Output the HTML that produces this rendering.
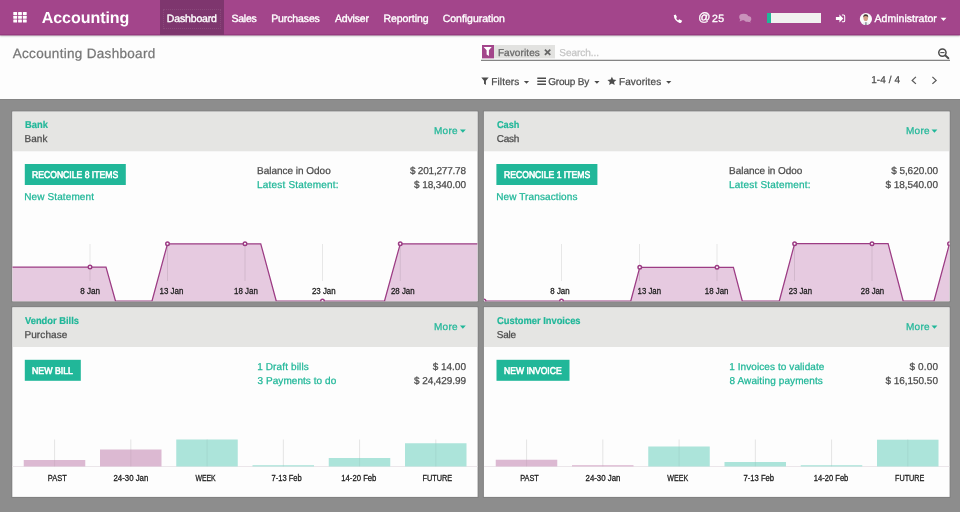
<!DOCTYPE html>
<html lang="en">
<head>
<meta charset="utf-8">
<title>Accounting Dashboard</title>
<style>
*{box-sizing:border-box;margin:0;padding:0}
html,body{width:960px;height:512px;overflow:hidden}
body{font-family:"Liberation Sans",sans-serif;background:#8d8d8d;position:relative;color:#4c4c4c}
.t{position:absolute;white-space:nowrap;display:block;text-rendering:geometricPrecision;-webkit-text-stroke:.25px currentColor}
svg{position:absolute;overflow:visible}
.nav{position:absolute;left:0;top:0;width:960px;height:35px;background:#a3458b;border-bottom:1px solid #973a80;box-shadow:0 1px 0 rgba(151,58,128,.4),0 1px 2px rgba(0,0,0,.3);z-index:3}
.nav .act{position:absolute;left:160px;top:0;width:64px;height:35px;background:#7e366e}
.nav .act i{position:absolute;left:3px;top:9px;width:58px;height:20px;border:1px dotted rgba(255,255,255,.09)}
.bar{position:absolute;left:767px;top:13px;width:54px;height:10px;background:#f1f1f0}
.bar i{position:absolute;left:0;top:0;width:4px;height:10px;background:#21b799}
.cp{position:absolute;left:0;top:34px;width:960px;height:65px;z-index:2}
.cp .bg{position:absolute;left:0;top:0;width:960px;height:65.2px;background:#fdfdfd;box-shadow:0 0 1px rgba(0,0,0,.35)}
.facet-i{position:absolute;left:482px;top:11px;width:12px;height:13px;background:#a3458b;box-shadow:0 1px 0 rgba(163,69,139,.4)}
.facet-b{position:absolute;left:494px;top:11px;width:61px;height:13px;background:#e2e2e0;box-shadow:0 1px 0 rgba(226,226,224,.4)}
.sline{position:absolute;left:481px;top:26px;width:469px;height:1px;background:#858585;box-shadow:0 -1px 0 rgba(120,120,120,.25)}
.card{position:absolute;width:466px;height:190px}
.hd{position:absolute;left:0;top:0;height:40px;background:#e5e5e3}
.btn{position:absolute;background:#21b799}
.md{-webkit-text-stroke:.6px currentColor}
.mi{-webkit-text-stroke:.35px currentColor}
.bc{-webkit-text-stroke:.25px currentColor}
.brand{-webkit-text-stroke:0}
.nb{-webkit-text-stroke:.2px currentColor}
</style>
</head>
<body>

<div class="nav">
  <div class="act"><i></i></div>
  <svg width="960" height="34" viewBox="0 0 960 34" style="left:0;top:0">
    <!-- apps grid -->
    <g fill="#fff">
      <rect x="13.3" y="12" width="3.8" height="2.9" rx=".5"/><rect x="18.1" y="12" width="3.8" height="2.9" rx=".5"/><rect x="22.9" y="12" width="3.8" height="2.9" rx=".5"/>
      <rect x="13.3" y="15.8" width="3.8" height="2.9" rx=".5"/><rect x="18.1" y="15.8" width="3.8" height="2.9" rx=".5"/><rect x="22.9" y="15.8" width="3.8" height="2.9" rx=".5"/>
      <rect x="13.3" y="19.6" width="3.8" height="2.9" rx=".5"/><rect x="18.1" y="19.6" width="3.8" height="2.9" rx=".5"/><rect x="22.9" y="19.6" width="3.8" height="2.9" rx=".5"/>
    </g>
    <!-- phone -->
    <path d="M674.9 15.2 C674.2 18.3 677.3 22.2 680.9 22.2" fill="none" stroke="#fff" stroke-width="1.5"/>
    <path d="M673.6 15.6 L675.6 14.6 L677.1 17.2 L675.4 18.3 Z M678 20.6 L679.2 19.2 L682.2 20.8 L681.3 22.6 L679.6 22.9 Z" fill="#fff"/>
    <!-- comments -->
    <g fill="#fff" opacity=".42">
      <ellipse cx="743.7" cy="17" rx="4.5" ry="3.3"/><path d="M740.3 19 L739.6 21.6 L743 20 Z"/>
      <ellipse cx="747.6" cy="18.9" rx="3.7" ry="2.8"/><path d="M749.3 20.6 L751.2 22.6 L747.6 21.6 Z"/>
    </g>
    <!-- sign in -->
    <g fill="#fff">
      <path d="M835.9 16.9 H839.4 V14.5 L843.3 18.5 L839.4 22.5 V20.1 H835.9 Z"/>
      <path d="M841.9 14.6 H843.6 Q845.2 14.6 845.2 16.2 V20.7 Q845.2 22.3 843.6 22.3 H841.9 V21.3 H843.4 Q844.2 21.3 844.2 20.5 V16.4 Q844.2 15.6 843.4 15.6 H841.9 Z"/>
    </g>
    <!-- avatar -->
    <circle cx="865.9" cy="19" r="6.1" fill="#fbfbfb"/>
    <path d="M862.2 24 Q862.8 21.8 865.8 21.8 Q868.8 21.8 869.4 24 Q865.9 25.8 862.2 24 Z" fill="#eceef0"/>
    <path d="M865.3 22 H866.5 L866.8 25 H865 Z" fill="#8f959c"/>
    <ellipse cx="865.7" cy="18" rx="2.3" ry="3.1" fill="#d4a088"/>
    <path d="M863.3 17.6 Q863 14.2 865.7 14.2 Q868.5 14.2 868.2 17.6 Q867.6 15.9 865.7 16 Q863.9 15.9 863.3 17.6 Z" fill="#4a3a34"/>
    <!-- caret -->
    <path d="M940.6 17.8 H946.5 L943.55 21 Z" fill="#fff"/>
  </svg>
  <div class="bar"><i></i></div>
  <span class="t brand" style="left:41.68px;top:9px;font-size:16px;line-height:19px;letter-spacing:-0.035px;color:#fff;font-weight:700">Accounting</span>
  <span class="t mi" style="left:166.86px;top:12px;font-size:10.5px;line-height:14px;letter-spacing:-0.167px;color:#fff">Dashboard</span>
  <span class="t mi" style="left:231.43px;top:12px;font-size:10.5px;line-height:14px;letter-spacing:-0.231px;color:#fff">Sales</span>
  <span class="t mi" style="left:271.16px;top:12px;font-size:10.5px;line-height:14px;letter-spacing:-0.113px;color:#fff">Purchases</span>
  <span class="t mi" style="left:335.00px;top:12px;font-size:10.5px;line-height:14px;letter-spacing:-0.188px;color:#fff">Adviser</span>
  <span class="t mi" style="left:383.41px;top:12px;font-size:10.5px;line-height:14px;letter-spacing:-0.037px;color:#fff">Reporting</span>
  <span class="t mi" style="left:442.73px;top:12px;font-size:10.5px;line-height:14px;letter-spacing:-0.024px;color:#fff">Configuration</span>
  <span class="t mi" style="left:698.30px;top:9px;font-size:12px;line-height:16px;letter-spacing:0.000px;color:#fff">@</span>
  <span class="t mi" style="left:711.98px;top:12px;font-size:10.5px;line-height:14px;letter-spacing:0.478px;color:#fff">25</span>
  <span class="t mi" style="left:874.50px;top:12px;font-size:10.5px;line-height:14px;letter-spacing:0.040px;color:#fff">Administrator</span>
</div>

<div class="cp">
  <div class="bg"></div>
  <div class="facet-i"></div><div class="facet-b"></div><div class="sline"></div>
  <svg width="960" height="65" viewBox="0 34 960 65" style="left:0;top:0">
    <!-- facet funnel -->
    <path d="M483.6 46.9 H491.7 L488.9 50.3 V56 L486.6 54.6 V50.3 Z" fill="#fff"/>
    <!-- facet x -->
    <path d="M544.9 49.7 L550.3 54.9 M550.3 49.7 L544.9 54.9" stroke="#666" stroke-width="1.8" fill="none"/>
    <!-- search-minus -->
    <circle cx="942.4" cy="52.6" r="3.65" fill="none" stroke="#4c4c4c" stroke-width="1.5"/>
    <path d="M945.4 55.5 L948.4 58.2" stroke="#4c4c4c" stroke-width="1.9" stroke-linecap="round"/>
    <path d="M940.3 52.6 H944.5" stroke="#4c4c4c" stroke-width="1.1"/>
    <!-- filters funnel -->
    <path d="M481.3 77.6 H488.7 L485.9 80.8 V85.1 L484 83.7 V80.8 Z" fill="#4c4c4c"/>
    <path d="M523.9 80.9 H529.1 L526.5 83.8 Z" fill="#4c4c4c"/>
    <!-- bars -->
    <path d="M537.3 78.3 H546 M537.3 81.3 H546 M537.3 84.3 H546" stroke="#4c4c4c" stroke-width="1.5"/>
    <path d="M594.3 80.9 H599.5 L596.9 83.8 Z" fill="#4c4c4c"/>
    <!-- star -->
    <path d="M611.9 76.7 L613.2 79.6 L616.4 79.9 L614 82 L614.7 85.1 L611.9 83.5 L609.1 85.1 L609.8 82 L607.4 79.9 L610.6 79.6 Z" fill="#4c4c4c"/>
    <path d="M666.1 80.9 H671.3 L668.7 83.8 Z" fill="#4c4c4c"/>
    <!-- pager chevrons -->
    <path d="M915.9 76.9 L912.2 80.4 L915.9 83.9" fill="none" stroke="#5a5a5a" stroke-width="1.3"/>
    <path d="M932.4 76.9 L936.1 80.4 L932.4 83.9" fill="none" stroke="#5a5a5a" stroke-width="1.3"/>
  </svg>
  <span class="t bc" style="left:12.75px;top:11px;font-size:13.5px;line-height:17px;letter-spacing:0.310px;color:#777">Accounting Dashboard</span>
  <span class="t" style="left:497.90px;top:13px;font-size:10px;line-height:13px;letter-spacing:0.103px;color:#666">Favorites</span>
  <span class="t" style="left:559.35px;top:13px;font-size:10px;line-height:13px;letter-spacing:-0.036px;color:#c4c4c4">Search...</span>
  <span class="t" style="left:491.20px;top:42px;font-size:10px;line-height:13px;letter-spacing:0.155px;color:#4c4c4c">Filters</span>
  <span class="t" style="left:548.20px;top:42px;font-size:10px;line-height:13px;letter-spacing:-0.163px;color:#4c4c4c">Group By</span>
  <span class="t" style="left:618.90px;top:42px;font-size:10px;line-height:13px;letter-spacing:0.141px;color:#4c4c4c">Favorites</span>
  <span class="t" style="left:871.25px;top:40px;font-size:10px;line-height:13px;letter-spacing:0.060px;color:#4c4c4c">1-4 / 4</span>
</div>

<div class="card" id="c1" style="left:12px;top:111px">
  <svg class="bgs" width="468" height="193" viewBox="11 110 468 193" style="left:-1px;top:-1px"><rect x="11.30" y="110.50" width="467.30" height="191.75" fill="#000" fill-opacity=".09"/><rect x="12.3" y="111.5" width="465.30" height="189.75" fill="#fdfdfd"/></svg>
  <div class="hd" style="left:1px;top:1px;width:464px;height:39px;box-shadow:0 1px 0 rgba(229,229,227,0.25)"></div>
  <div class="btn" style="left:0;top:0;width:101.20px;height:21.00px;transform:translate(12.80px,53.00px)"></div>
  <svg width="466" height="191" viewBox="12 111 466 191" style="left:0;top:0" font-family="Liberation Sans, sans-serif">
    <clipPath id="clip-c1"><rect x="12.3" y="111.5" width="465.30" height="189.75"/></clipPath>
    <path d="M459.90 129.40H465.80L462.85 132.80Z" fill="#21b799"/>
    <g clip-path="url(#clip-c1)">
      <path d="M12.3 267H106L115.5 301H152L167.5 243.75H260.75L276.25 301H384.5L400.25 243.75H477.6 V302.25 H12.3 Z" fill="#e6cae0"/>
      <path d="M90 244V281M167.5 244V281M245 244V281M322.5 244V281M400.25 244V281" stroke="#000" stroke-opacity=".085" stroke-width="1" fill="none"/>
      <path d="M12.3 267H106L115.5 301H152L167.5 243.75H260.75L276.25 301H384.5L400.25 243.75H477.6" fill="none" stroke="#9c3c84" stroke-width="1.25"/>
      <g fill="#fff" stroke="#9c3c84" stroke-width="1.5"><circle cx="90" cy="267" r="1.75"/><circle cx="167.5" cy="243.75" r="1.75"/><circle cx="245" cy="243.75" r="1.75"/><circle cx="322.5" cy="301" r="1.75"/><circle cx="400.25" cy="243.75" r="1.75"/></g>
      <g font-size="8.3" fill="#1c1c1c" stroke="#1c1c1c" stroke-width=".28"><text x="80.3" y="294" textLength="19.8" lengthAdjust="spacingAndGlyphs">8 Jan</text><text x="159.6" y="294" textLength="23.8" lengthAdjust="spacingAndGlyphs">13 Jan</text><text x="234" y="294" textLength="23.8" lengthAdjust="spacingAndGlyphs">18 Jan</text><text x="312" y="294" textLength="23.6" lengthAdjust="spacingAndGlyphs">23 Jan</text><text x="391" y="294" textLength="23.6" lengthAdjust="spacingAndGlyphs">28 Jan</text></g>
    </g>
  </svg>
  <span class="t sx nb" style="left:12.59px;top:8px;font-size:10px;line-height:13px;letter-spacing:0.000px;color:#21b799;transform:scaleX(0.9353);transform-origin:0 0;font-weight:700">Bank</span>
  <span class="t" style="left:12.40px;top:22px;font-size:10px;line-height:13px;letter-spacing:0.086px;color:#4c4c4c">Bank</span>
  <span class="t" style="left:422.00px;top:14px;font-size:10px;line-height:13px;letter-spacing:0.243px;color:#21b799">More</span>
  <span class="t md sx" style="left:20.21px;top:58px;font-size:9.8px;line-height:13px;letter-spacing:0.000px;color:#fff;transform:scaleX(0.8789);transform-origin:0 0">RECONCILE 8 ITEMS</span>
  <span class="t" style="left:12.20px;top:80px;font-size:10px;line-height:13px;letter-spacing:0.122px;color:#21b799">New Statement</span>
  <span class="t" style="left:245.10px;top:54px;font-size:10px;line-height:13px;letter-spacing:-0.023px;color:#4c4c4c">Balance in Odoo</span>
  <span class="t" style="left:245.10px;top:68px;font-size:10px;line-height:13px;letter-spacing:0.194px;color:#21b799">Latest Statement:</span>
  <span class="t" style="left:397.90px;top:54px;font-size:10px;line-height:13px;letter-spacing:-0.207px;color:#4c4c4c">$ 201,277.78</span>
  <span class="t" style="left:402.00px;top:68px;font-size:10px;line-height:13px;letter-spacing:-0.087px;color:#4c4c4c">$ 18,340.00</span>
</div>

<div class="card" id="c2" style="left:484px;top:111px">
  <svg class="bgs" width="468" height="193" viewBox="483 110 468 193" style="left:-1px;top:-1px"><rect x="482.90" y="110.50" width="467.70" height="191.75" fill="#000" fill-opacity=".09"/><rect x="483.9" y="111.5" width="465.70" height="189.75" fill="#fdfdfd"/></svg>
  <div class="hd" style="left:0px;top:1px;width:465px;height:39px;box-shadow:0 1px 0 rgba(229,229,227,0.25)"></div>
  <div class="btn" style="left:0;top:0;width:101.20px;height:21.00px;transform:translate(12.40px,53.00px)"></div>
  <svg width="466" height="191" viewBox="484 111 466 191" style="left:0;top:0" font-family="Liberation Sans, sans-serif">
    <clipPath id="clip-c2"><rect x="483.9" y="111.5" width="465.70" height="189.75"/></clipPath>
    <path d="M931.50 129.40H937.40L934.45 132.80Z" fill="#21b799"/>
    <g clip-path="url(#clip-c2)">
      <path d="M483.9 301H630.75L639.75 267.25H733.4L742.3 301H779.3L794.6 243.7H888.1L903.2 301H934L949.5 243.7 V302.25 H483.9 Z" fill="#e6cae0"/>
      <path d="M561.5 244V281M639.5 244V281M717 244V281M794.5 244V281M872 244V281" stroke="#000" stroke-opacity=".085" stroke-width="1" fill="none"/>
      <path d="M483.9 301H630.75L639.75 267.25H733.4L742.3 301H779.3L794.6 243.7H888.1L903.2 301H934L949.5 243.7" fill="none" stroke="#9c3c84" stroke-width="1.25"/>
      <g fill="#fff" stroke="#9c3c84" stroke-width="1.5"><circle cx="484" cy="301" r="1.75"/><circle cx="561.5" cy="301" r="1.75"/><circle cx="639.75" cy="267.25" r="1.75"/><circle cx="717" cy="267.25" r="1.75"/><circle cx="794.6" cy="243.7" r="1.75"/><circle cx="872" cy="243.7" r="1.75"/><circle cx="949.5" cy="243.7" r="1.75"/></g>
      <g font-size="8.3" fill="#1c1c1c" stroke="#1c1c1c" stroke-width=".28"><text x="550.3" y="294" textLength="19.3" lengthAdjust="spacingAndGlyphs">8 Jan</text><text x="637.6" y="294" textLength="23.4" lengthAdjust="spacingAndGlyphs">13 Jan</text><text x="704.8" y="294" textLength="23.6" lengthAdjust="spacingAndGlyphs">18 Jan</text><text x="788.7" y="294" textLength="23.3" lengthAdjust="spacingAndGlyphs">23 Jan</text><text x="860.8" y="294" textLength="23.4" lengthAdjust="spacingAndGlyphs">28 Jan</text></g>
    </g>
  </svg>
  <span class="t sx nb" style="left:12.83px;top:8px;font-size:10px;line-height:13px;letter-spacing:0.000px;color:#21b799;transform:scaleX(0.9171);transform-origin:0 0;font-weight:700">Cash</span>
  <span class="t" style="left:12.70px;top:22px;font-size:10px;line-height:13px;letter-spacing:-0.244px;color:#4c4c4c">Cash</span>
  <span class="t" style="left:422.00px;top:14px;font-size:10px;line-height:13px;letter-spacing:0.243px;color:#21b799">More</span>
  <span class="t md sx" style="left:20.21px;top:58px;font-size:9.8px;line-height:13px;letter-spacing:0.000px;color:#fff;transform:scaleX(0.8789);transform-origin:0 0">RECONCILE 1 ITEMS</span>
  <span class="t" style="left:12.20px;top:80px;font-size:10px;line-height:13px;letter-spacing:0.119px;color:#21b799">New Transactions</span>
  <span class="t" style="left:245.10px;top:54px;font-size:10px;line-height:13px;letter-spacing:-0.045px;color:#4c4c4c">Balance in Odoo</span>
  <span class="t" style="left:245.10px;top:68px;font-size:10px;line-height:13px;letter-spacing:0.194px;color:#21b799">Latest Statement:</span>
  <span class="t" style="left:407.15px;top:54px;font-size:10px;line-height:13px;letter-spacing:-0.050px;color:#4c4c4c">$ 5,620.00</span>
  <span class="t" style="left:401.40px;top:68px;font-size:10px;line-height:13px;letter-spacing:-0.027px;color:#4c4c4c">$ 18,540.00</span>
</div>

<div class="card" id="c3" style="left:12px;top:307px">
  <svg class="bgs" width="468" height="193" viewBox="11 306 468 193" style="left:-1px;top:-1px"><rect x="11.30" y="306.30" width="467.30" height="191.60" fill="#000" fill-opacity=".09"/><rect x="12.3" y="307.3" width="465.30" height="189.60" fill="#fdfdfd"/></svg>
  <div class="hd" style="left:1px;top:1px;width:464px;height:39px"></div>
  <div class="btn" style="left:0;top:0;width:56.10px;height:21.10px;transform:translate(12.80px,52.80px)"></div>
  <svg width="466" height="191" viewBox="12 307 466 191" style="left:0;top:0" font-family="Liberation Sans, sans-serif">
    <clipPath id="clip-c3"><rect x="12.3" y="307.3" width="465.30" height="189.60"/></clipPath>
    <path d="M459.90 325.40H465.80L462.85 328.80Z" fill="#21b799"/>
    <g clip-path="url(#clip-c3)">
      <path d="M54.60 439.5V466M130.85 439.5V466M207.10 439.5V466M283.35 439.5V466M359.60 439.5V466M435.85 439.5V466" stroke="#e4e4e4" stroke-width="1" fill="none"/>
      <path d="M12.3 466.5H477.6" stroke="#ebe6ea" stroke-width="1"/>
      <rect x="23.75" y="460" width="61.5" height="6.50" fill="#dcb9d2"/>
      <path d="M54.60 460V466.5" stroke="#000" stroke-opacity=".05" stroke-width="1"/>
      <rect x="100.00" y="449.5" width="61.5" height="17.00" fill="#dcb9d2"/>
      <path d="M130.85 449.5V466.5" stroke="#000" stroke-opacity=".05" stroke-width="1"/>
      <rect x="176.25" y="439.5" width="61.5" height="27.00" fill="#ace4da"/>
      <path d="M207.10 439.5V466.5" stroke="#000" stroke-opacity=".05" stroke-width="1"/>
      <rect x="252.50" y="465.2" width="61.5" height="1.30" fill="#ace4da"/>
      <path d="M283.35 465.2V466.5" stroke="#000" stroke-opacity=".05" stroke-width="1"/>
      <rect x="328.75" y="458" width="61.5" height="8.50" fill="#ace4da"/>
      <path d="M359.60 458V466.5" stroke="#000" stroke-opacity=".05" stroke-width="1"/>
      <rect x="405.00" y="443.25" width="61.5" height="23.25" fill="#ace4da"/>
      <path d="M435.85 443.25V466.5" stroke="#000" stroke-opacity=".05" stroke-width="1"/>
      <g font-size="8.3" fill="#1c1c1c" stroke="#1c1c1c" stroke-width=".28"><text x="47.8" y="480.75" textLength="18.9" lengthAdjust="spacingAndGlyphs">PAST</text><text x="113.5" y="480.75" textLength="34.8" lengthAdjust="spacingAndGlyphs">24-30 Jan</text><text x="195.4" y="480.75" textLength="20.3" lengthAdjust="spacingAndGlyphs">WEEK</text><text x="271.5" y="480.75" textLength="30.2" lengthAdjust="spacingAndGlyphs">7-13 Feb</text><text x="341.3" y="480.75" textLength="35.1" lengthAdjust="spacingAndGlyphs">14-20 Feb</text><text x="422.6" y="480.75" textLength="29.6" lengthAdjust="spacingAndGlyphs">FUTURE</text></g>
    </g>
  </svg>
  <span class="t sx nb" style="left:13.15px;top:8px;font-size:10px;line-height:13px;letter-spacing:0.000px;color:#21b799;transform:scaleX(0.9332);transform-origin:0 0;font-weight:700">Vendor Bills</span>
  <span class="t" style="left:12.40px;top:22px;font-size:10px;line-height:13px;letter-spacing:0.109px;color:#4c4c4c">Purchase</span>
  <span class="t" style="left:422.00px;top:14px;font-size:10px;line-height:13px;letter-spacing:0.243px;color:#21b799">More</span>
  <span class="t md sx" style="left:20.20px;top:58px;font-size:9.8px;line-height:13px;letter-spacing:0.000px;color:#fff;transform:scaleX(0.8957);transform-origin:0 0">NEW BILL</span>
  <span class="t" style="left:245.15px;top:54px;font-size:10px;line-height:13px;letter-spacing:0.140px;color:#21b799">1 Draft bills</span>
  <span class="t" style="left:245.55px;top:68px;font-size:10px;line-height:13px;letter-spacing:0.056px;color:#21b799">3 Payments to do</span>
  <span class="t" style="left:420.70px;top:54px;font-size:10px;line-height:13px;letter-spacing:-0.017px;color:#4c4c4c">$ 14.00</span>
  <span class="t" style="left:402.00px;top:68px;font-size:10px;line-height:13px;letter-spacing:-0.077px;color:#4c4c4c">$ 24,429.99</span>
</div>

<div class="card" id="c4" style="left:484px;top:307px">
  <svg class="bgs" width="468" height="193" viewBox="483 306 468 193" style="left:-1px;top:-1px"><rect x="482.90" y="306.30" width="467.70" height="191.60" fill="#000" fill-opacity=".09"/><rect x="483.9" y="307.3" width="465.70" height="189.60" fill="#fdfdfd"/></svg>
  <div class="hd" style="left:0px;top:1px;width:465px;height:39px"></div>
  <div class="btn" style="left:0;top:0;width:72.75px;height:21.10px;transform:translate(12.50px,52.80px)"></div>
  <svg width="466" height="191" viewBox="484 307 466 191" style="left:0;top:0" font-family="Liberation Sans, sans-serif">
    <clipPath id="clip-c4"><rect x="483.9" y="307.3" width="465.70" height="189.60"/></clipPath>
    <path d="M931.50 325.40H937.40L934.45 328.80Z" fill="#21b799"/>
    <g clip-path="url(#clip-c4)">
      <path d="M526.60 439.5V466M602.85 439.5V466M679.10 439.5V466M755.35 439.5V466M831.60 439.5V466M907.85 439.5V466" stroke="#e4e4e4" stroke-width="1" fill="none"/>
      <path d="M483.9 466.5H949.5" stroke="#ebe6ea" stroke-width="1"/>
      <rect x="495.75" y="459.75" width="61.5" height="6.75" fill="#dcb9d2"/>
      <path d="M526.60 459.75V466.5" stroke="#000" stroke-opacity=".05" stroke-width="1"/>
      <rect x="572.00" y="465.2" width="61.5" height="1.30" fill="#dcb9d2"/>
      <path d="M602.85 465.2V466.5" stroke="#000" stroke-opacity=".05" stroke-width="1"/>
      <rect x="648.25" y="446.5" width="61.5" height="20.00" fill="#ace4da"/>
      <path d="M679.10 446.5V466.5" stroke="#000" stroke-opacity=".05" stroke-width="1"/>
      <rect x="724.50" y="462" width="61.5" height="4.50" fill="#ace4da"/>
      <path d="M755.35 462V466.5" stroke="#000" stroke-opacity=".05" stroke-width="1"/>
      <rect x="800.75" y="465.2" width="61.5" height="1.30" fill="#ace4da"/>
      <path d="M831.60 465.2V466.5" stroke="#000" stroke-opacity=".05" stroke-width="1"/>
      <rect x="877.00" y="439.7" width="61.5" height="26.80" fill="#ace4da"/>
      <path d="M907.85 439.7V466.5" stroke="#000" stroke-opacity=".05" stroke-width="1"/>
      <g font-size="8.3" fill="#1c1c1c" stroke="#1c1c1c" stroke-width=".28"><text x="520.2" y="480.75" textLength="18.6" lengthAdjust="spacingAndGlyphs">PAST</text><text x="585.5" y="480.75" textLength="35" lengthAdjust="spacingAndGlyphs">24-30 Jan</text><text x="667.3" y="480.75" textLength="20.8" lengthAdjust="spacingAndGlyphs">WEEK</text><text x="743.5" y="480.75" textLength="30.6" lengthAdjust="spacingAndGlyphs">7-13 Feb</text><text x="813.8" y="480.75" textLength="34.5" lengthAdjust="spacingAndGlyphs">14-20 Feb</text><text x="895" y="480.75" textLength="29.4" lengthAdjust="spacingAndGlyphs">FUTURE</text></g>
    </g>
  </svg>
  <span class="t sx nb" style="left:12.83px;top:8px;font-size:10px;line-height:13px;letter-spacing:0.000px;color:#21b799;transform:scaleX(0.9334);transform-origin:0 0;font-weight:700">Customer Invoices</span>
  <span class="t" style="left:12.75px;top:22px;font-size:10px;line-height:13px;letter-spacing:-0.201px;color:#4c4c4c">Sale</span>
  <span class="t" style="left:422.00px;top:14px;font-size:10px;line-height:13px;letter-spacing:0.243px;color:#21b799">More</span>
  <span class="t md sx" style="left:20.21px;top:58px;font-size:9.8px;line-height:13px;letter-spacing:0.000px;color:#fff;transform:scaleX(0.8750);transform-origin:0 0">NEW INVOICE</span>
  <span class="t" style="left:245.15px;top:54px;font-size:10px;line-height:13px;letter-spacing:0.089px;color:#21b799">1 Invoices to validate</span>
  <span class="t" style="left:245.50px;top:68px;font-size:10px;line-height:13px;letter-spacing:0.098px;color:#21b799">8 Awaiting payments</span>
  <span class="t" style="left:425.40px;top:54px;font-size:10px;line-height:13px;letter-spacing:0.152px;color:#4c4c4c">$ 0.00</span>
  <span class="t" style="left:401.40px;top:68px;font-size:10px;line-height:13px;letter-spacing:-0.027px;color:#4c4c4c">$ 16,150.50</span>
</div>

</body>
</html>
